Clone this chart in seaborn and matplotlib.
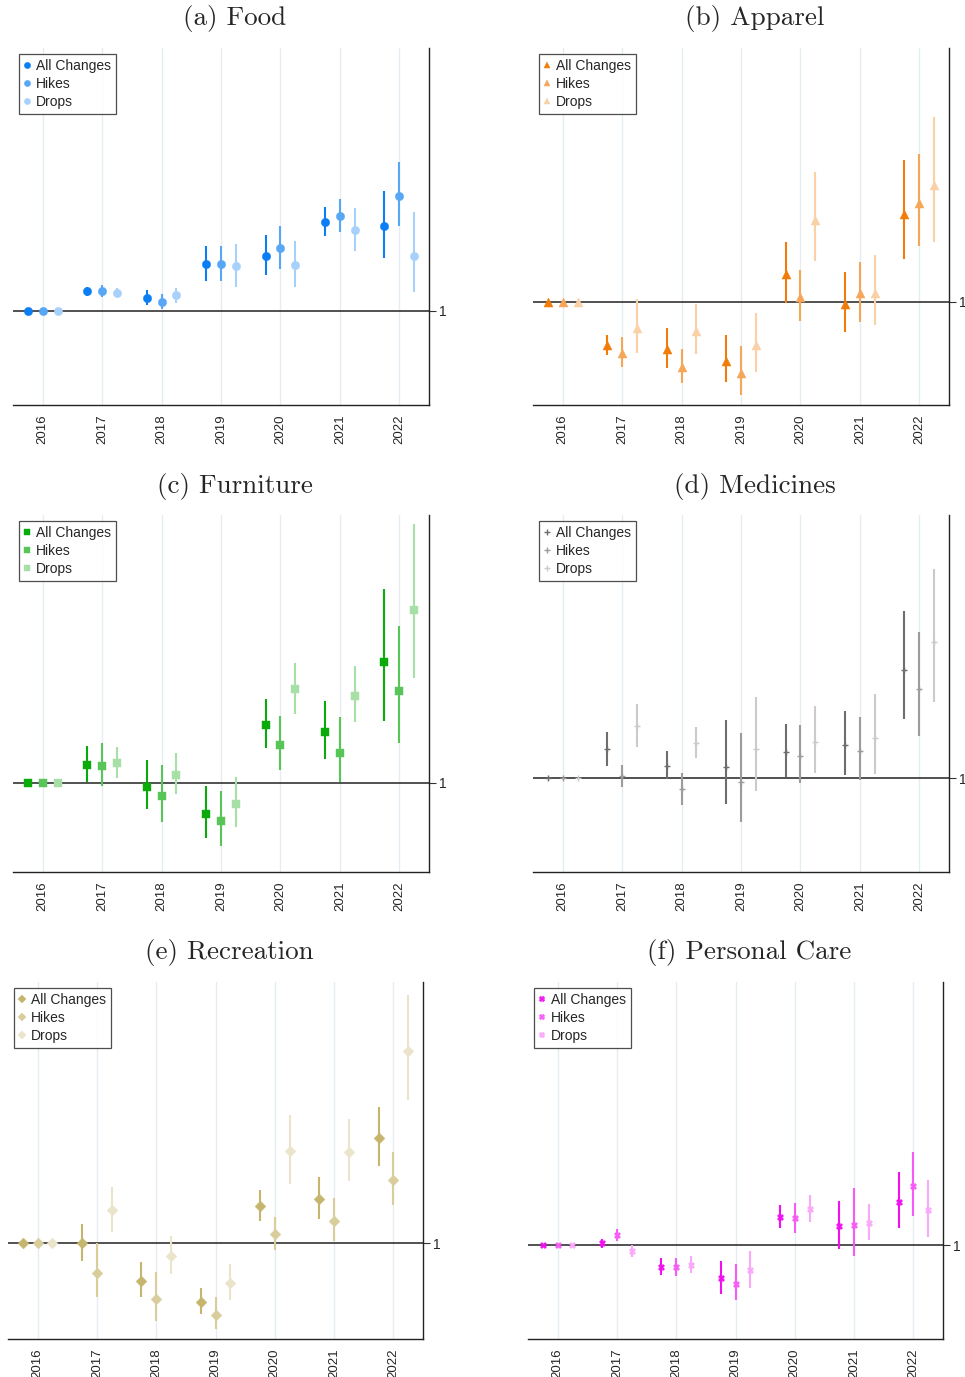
import numpy as np
import pandas as pd
import matplotlib
matplotlib.use("Agg")
import matplotlib.pyplot as plt
import seaborn as sns
from matplotlib.lines import Line2D

YEARS = [2016, 2017, 2018, 2019, 2020, 2021, 2022]
SERIES = ["All Changes", "Hikes", "Drops"]

# ---------- (a) Food ----------
FOOD_ALL    = [1.000, 1.0295, 1.0195, 1.070, 1.082, 1.133, 1.1265]
FOOD_ALL_LO = [1.000, 1.0225, 1.0085, 1.045, 1.053, 1.1125, 1.0795]
FOOD_ALL_HI = [1.000, 1.036, 1.0305, 1.097, 1.1135, 1.1545, 1.1795]
FOOD_HIK    = [1.000, 1.0295, 1.0135, 1.070, 1.0935, 1.142, 1.172]
FOOD_HIK_LO = [1.000, 1.0205, 1.003, 1.045, 1.0625, 1.118, 1.127]
FOOD_HIK_HI = [1.000, 1.0385, 1.0245, 1.097, 1.127, 1.167, 1.2225]
FOOD_DRP    = [1.000, 1.027, 1.023, 1.067, 1.068, 1.121, 1.0825]
FOOD_DRP_LO = [1.000, 1.0205, 1.012, 1.036, 1.0355, 1.090, 1.0285]
FOOD_DRP_HI = [1.000, 1.0335, 1.034, 1.1005, 1.1045, 1.154, 1.1475]

# ---------- (b) Apparel ----------
APP_ALL    = [1.000, 0.935, 0.9285, 0.9115, 1.041, 0.9965, 1.1315]
APP_ALL_LO = [1.000, 0.9195, 0.900, 0.879, 0.9975, 0.955, 1.0635]
APP_ALL_HI = [1.000, 0.9495, 0.961, 0.9505, 1.0895, 1.045, 1.2125]
APP_HIK    = [1.000, 0.9235, 0.9015, 0.8925, 1.0065, 1.0125, 1.1475]
APP_HIK_LO = [1.000, 0.9015, 0.8775, 0.8595, 0.971, 0.970, 1.084]
APP_HIK_HI = [1.000, 0.947, 0.9285, 0.9335, 1.0475, 1.0595, 1.2215]
APP_DRP    = [1.000, 0.960, 0.9565, 0.9345, 1.1225, 1.0135, 1.174]
APP_DRP_LO = [1.000, 0.9225, 0.921, 0.895, 1.061, 0.965, 1.090]
APP_DRP_HI = [1.000, 1.004, 0.996, 0.9825, 1.1945, 1.070, 1.276]

# ---------- (c) Furniture ----------
FUR_ALL    = [1.000, 1.027, 0.994, 0.9535, 1.087, 1.0765, 1.180]
FUR_ALL_LO = [1.000, 1.0015, 0.961, 0.9175, 1.0525, 1.035, 1.093]
FUR_ALL_HI = [1.000, 1.0555, 1.0335, 0.9955, 1.1255, 1.122, 1.290]
FUR_HIK    = [1.000, 1.0255, 0.9805, 0.943, 1.057, 1.045, 1.1365]
FUR_HIK_LO = [1.000, 0.995, 0.9415, 0.9055, 1.0185, 1.0005, 1.059]
FUR_HIK_HI = [1.000, 1.060, 1.026, 0.988, 1.1005, 1.0985, 1.2345]
FUR_DRP    = [1.000, 1.030, 1.012, 0.9685, 1.1395, 1.1305, 1.258]
FUR_DRP_LO = [1.000, 1.0075, 0.9825, 0.934, 1.103, 1.0915, 1.1565]
FUR_DRP_HI = [1.000, 1.0535, 1.044, 1.0085, 1.1795, 1.174, 1.3865]

# ---------- (d) Medicines ----------
MED_ALL    = [1.000, 1.044, 1.019, 1.0175, 1.040, 1.050, 1.1625]
MED_ALL_LO = [1.000, 1.019, 0.999, 0.9615, 1.0025, 1.005, 1.0885]
MED_ALL_HI = [1.000, 1.070, 1.0405, 1.0875, 1.081, 1.1005, 1.251]
MED_HIK    = [1.000, 1.0035, 0.9835, 0.994, 1.0335, 1.041, 1.1335]
MED_HIK_LO = [1.000, 0.9875, 0.960, 0.935, 0.9925, 0.997, 1.0635]
MED_HIK_HI = [1.000, 1.020, 1.0085, 1.0685, 1.0805, 1.0925, 1.2185]
MED_DRP    = [1.000, 1.079, 1.053, 1.0435, 1.0545, 1.061, 1.204]
MED_DRP_LO = [1.000, 1.0475, 1.030, 0.981, 1.0085, 1.006, 1.115]
MED_DRP_HI = [1.000, 1.112, 1.077, 1.122, 1.1085, 1.126, 1.3125]

# ---------- (e) Recreation ----------
REC_ALL    = [1.000, 1.000, 0.944, 0.9125, 1.056, 1.066, 1.1585]
REC_ALL_LO = [1.000, 0.973, 0.9195, 0.894, 1.033, 1.036, 1.1155]
REC_ALL_HI = [1.000, 1.0295, 0.972, 0.933, 1.0805, 1.0995, 1.2045]
REC_HIK    = [1.000, 0.9555, 0.9165, 0.893, 1.0135, 1.0335, 1.095]
REC_HIK_LO = [1.000, 0.919, 0.884, 0.871, 0.9895, 1.003, 1.057]
REC_HIK_HI = [1.000, 1.000, 0.957, 0.920, 1.0395, 1.0675, 1.1375]
REC_DRP    = [1.000, 1.0495, 0.9815, 0.941, 1.138, 1.137, 1.288]
REC_DRP_LO = [1.000, 1.0175, 0.9545, 0.9155, 1.089, 1.093, 1.215]
REC_DRP_HI = [1.000, 1.085, 1.0115, 0.9695, 1.193, 1.1865, 1.372]

# ---------- (f) Personal Care ----------
PC_ALL    = [1.000, 1.0035, 0.9675, 0.9505, 1.042, 1.028, 1.0645]
PC_ALL_LO = [1.000, 0.996, 0.955, 0.927, 1.0255, 0.9935, 1.025]
PC_ALL_HI = [1.000, 1.0095, 0.980, 0.9765, 1.060, 1.0665, 1.109]
PC_HIK    = [1.000, 1.0145, 0.9665, 0.9425, 1.040, 1.030, 1.0885]
PC_HIK_LO = [1.000, 1.006, 0.9535, 0.9175, 1.018, 0.9835, 1.0435]
PC_HIK_HI = [1.000, 1.0235, 0.980, 0.971, 1.063, 1.0855, 1.1395]
PC_DRP    = [1.000, 0.991, 0.970, 0.962, 1.0535, 1.033, 1.0525]
PC_DRP_LO = [1.000, 0.982, 0.9575, 0.9355, 1.034, 1.007, 1.012]
PC_DRP_HI = [1.000, 1.000, 0.9835, 0.9915, 1.0745, 1.061, 1.0975]

TITLES = ["(a) Food", "(b) Apparel", "(c) Furniture",
          "(d) Medicines", "(e) Recreation", "(f) Personal Care"]

PANELS = [
    dict(title=TITLES[0], color="#0a7ef2", marker="o", ms=6.0, lms=4.5,
         data=[(FOOD_ALL, FOOD_ALL_LO, FOOD_ALL_HI), (FOOD_HIK, FOOD_HIK_LO, FOOD_HIK_HI), (FOOD_DRP, FOOD_DRP_LO, FOOD_DRP_HI)],
         ylim=(0.8585, 1.3935), pos=(13, 48, 429, 405)),
    dict(title=TITLES[1], color="#f27c0a", marker="^", ms=6.5, lms=5.0,
         data=[(APP_ALL, APP_ALL_LO, APP_ALL_HI), (APP_HIK, APP_HIK_LO, APP_HIK_HI), (APP_DRP, APP_DRP_LO, APP_DRP_HI)],
         ylim=(0.845, 1.38), pos=(533, 48, 949, 405)),
    dict(title=TITLES[2], color="#0aaa0a", marker="s", ms=6.0, lms=4.5,
         data=[(FUR_ALL, FUR_ALL_LO, FUR_ALL_HI), (FUR_HIK, FUR_HIK_LO, FUR_HIK_HI), (FUR_DRP, FUR_DRP_LO, FUR_DRP_HI)],
         ylim=(0.8665, 1.4005), pos=(13, 515, 429, 872)),
    dict(title=TITLES[3], color="#6e6e6e", marker="+", ms=5.0, lms=4.5,
         data=[(MED_ALL, MED_ALL_LO, MED_ALL_HI), (MED_HIK, MED_HIK_LO, MED_HIK_HI), (MED_DRP, MED_DRP_LO, MED_DRP_HI)],
         ylim=(0.86, 1.394), pos=(533, 515, 949, 872)),
    dict(title=TITLES[4], color="#c6b56c", marker="D", ms=5.5, lms=4.5,
         data=[(REC_ALL, REC_ALL_LO, REC_ALL_HI), (REC_HIK, REC_HIK_LO, REC_HIK_HI), (REC_DRP, REC_DRP_LO, REC_DRP_HI)],
         ylim=(0.8565, 1.392), pos=(8, 982, 423, 1339)),
    dict(title=TITLES[5], color="#f20ff0", marker="X", ms=4.5, lms=4.0,
         data=[(PC_ALL, PC_ALL_LO, PC_ALL_HI), (PC_HIK, PC_HIK_LO, PC_HIK_HI), (PC_DRP, PC_DRP_LO, PC_DRP_HI)],
         ylim=(0.8595, 1.3935), pos=(528, 982, 943, 1339)),
]

OFFSETS = [-0.25, 0.0, 0.25]
STRENGTH = [1.0, 0.68, 0.36]

sns.set_style("white")
plt.rcParams["font.family"] = ["Liberation Sans", "DejaVu Sans"]

W, H = 965, 1377
fig = plt.figure(figsize=(W / 100, H / 100), dpi=100)


def tint(c, s):
    rgb = np.array(matplotlib.colors.to_rgb(c))
    return tuple(1 - s * (1 - rgb))


for p in PANELS:
    l, t, r, b = p["pos"]
    ax = fig.add_axes([l / W, 1 - b / H, (r - l) / W, (b - t) / H])
    ax.set_xlim(2015.5, 2022.5)
    ax.set_ylim(*p["ylim"])
    ax.set_xticks(YEARS)
    ax.set_xticklabels([str(y) for y in YEARS], rotation=90, fontsize=9.5)
    ax.grid(axis="x", color="#e4edf1", lw=1.0, zorder=0)
    ax.grid(axis="y", visible=False)
    ax.axhline(1.0, color="#222222", lw=1.1, zorder=1)
    handles = []
    for k, (vals, lo, hi) in enumerate(p["data"]):
        col = tint(p["color"], STRENGTH[k])
        df = pd.DataFrame({"x": np.array(YEARS) + OFFSETS[k], "y": vals,
                           "lo": lo, "hi": hi})
        ax.vlines(df["x"], df["lo"], df["hi"], color=col, lw=1.5, zorder=2)
        mk = p["marker"]
        if mk == "+":
            sns.scatterplot(data=df, x="x", y="y", ax=ax, marker="+", s=p["ms"] ** 2,
                            color=col, linewidth=1.0, zorder=3, legend=False)
        else:
            sns.scatterplot(data=df, x="x", y="y", ax=ax, marker=mk, s=p["ms"] ** 2,
                            color=col, edgecolor=col, linewidth=0.3, zorder=3, legend=False)
        handles.append(Line2D([], [], ls="none", marker=mk, color=col,
                              markeredgecolor=col, markersize=p["lms"],
                              markeredgewidth=1.0 if mk == "+" else 0.3,
                              label=SERIES[k]))
    ax.set_xlabel("")
    ax.set_ylabel("")
    ax.yaxis.tick_right()
    ax.set_yticks([1.0])
    ax.set_yticklabels(["1"], fontsize=10)
    ax.tick_params(axis="y", direction="out", length=5, width=0.8, color="#333333", pad=2)
    ax.tick_params(axis="x", direction="out", length=3, width=0.8, color="#333333", pad=4)
    for s in ["left", "top"]:
        ax.spines[s].set_visible(False)
    for s in ["right", "bottom"]:
        ax.spines[s].set_color("#222222")
        ax.spines[s].set_linewidth(1.0)
    leg = ax.legend(handles=handles, loc="upper left", fontsize=10,
                    frameon=True, fancybox=False, borderpad=0.35,
                    labelspacing=0.28, handlelength=0.4, handletextpad=0.45,
                    borderaxespad=0.45)
    leg.get_frame().set_edgecolor("#222222")
    leg.get_frame().set_linewidth(0.9)
    cx = (l + r) / 2 + 14
    cy = 19 if t < 100 else t - 29
    fig.text(cx / W, 1 - cy / H, p["title"],
             ha="center", va="center", fontsize=19.5, family=["cmr10", "DejaVu Serif"])

fig.savefig("out.png", dpi=100)
